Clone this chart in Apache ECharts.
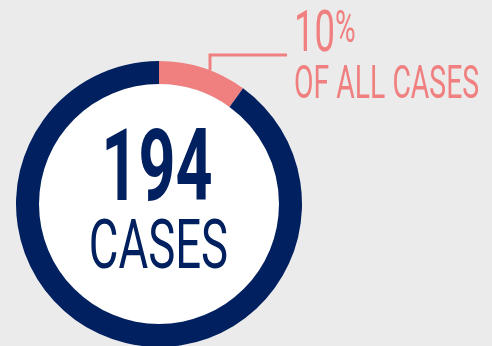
<!DOCTYPE html>
<html>
<head>
<meta charset="utf-8">
<style>
  html, body { margin: 0; padding: 0; background: #ebebeb; }
  #chart { width: 492px; height: 346px; }
</style>
<script src="https://cdn.jsdelivr.net/npm/echarts@6/dist/echarts.min.js"></script>
</head>
<body>
<div id="chart"></div>
<script>
// Share of all cases: highlighted group vs. the rest
const segments = ['This group', 'Other cases'];
const shares = [10, 90];
const segmentColors = ['#f08080', '#002060'];
const caseCount = 194;
const caseLabel = 'CASES';
const shareCaption = 'OF ALL CASES';

const chart = echarts.init(document.getElementById('chart'), null, { renderer: 'canvas' });

const cx = 159, cy = 204, rOuter = 143, rInner = 120;
const total = shares.reduce((a, b) => a + b, 0);
const pct = Math.round(shares[0] / total * 100);

// leader line: rises vertically from the highlighted arc, then runs right to the caption
const anchorX = cx + 51;
const anchorY = cy - Math.sqrt(rOuter * rOuter - 51 * 51);
const elbowY = 55;
const lineEndX = 287;

const condensed = 0.64;

chart.setOption({
  backgroundColor: '#ebebeb',
  animation: false,
  series: [{
    type: 'pie',
    center: [cx, cy],
    radius: [rInner, rOuter],
    startAngle: 90,
    clockwise: true,
    silent: true,
    label: { show: false },
    labelLine: { show: false },
    emphasis: { disabled: true },
    itemStyle: { borderWidth: 0 },
    data: segments.map((name, i) => ({
      name, value: shares[i], itemStyle: { color: segmentColors[i] }
    }))
  }],
  graphic: [
    {
      type: 'circle', silent: true, z: -1,
      shape: { cx, cy, r: rInner },
      style: { fill: '#ffffff' }
    },
    {
      type: 'text', x: 157, y: 175, scaleX: condensed, silent: true,
      style: {
        text: String(caseCount), x: 0, y: 0, align: 'center', verticalAlign: 'middle',
        font: 'bold 101px Roboto', fill: '#002060'
      }
    },
    {
      type: 'text', x: 158.5, y: 251, scaleX: 0.66, silent: true,
      style: {
        text: caseLabel, x: 0, y: 0, align: 'center', verticalAlign: 'middle',
        font: '69px Roboto', fill: '#002060'
      }
    },
    {
      type: 'polyline', silent: true,
      shape: { points: [[anchorX, anchorY], [anchorX, elbowY], [lineEndX, elbowY]] },
      style: { stroke: '#f08080', lineWidth: 3, fill: null }
    },
    {
      type: 'text', x: 294, y: 37, scaleX: condensed, silent: true,
      style: {
        text: '{n|' + pct + '}{p|%}', x: 0, y: 0, align: 'left', verticalAlign: 'middle',
        rich: {
          n: { font: '57px Roboto', fill: '#f08080' },
          p: { font: '44px Roboto', fill: '#f08080', verticalAlign: 'top' }
        }
      }
    },
    {
      type: 'text', x: 294, y: 86, scaleX: 0.617, silent: true,
      style: {
        text: shareCaption, x: 0, y: 0, align: 'left', verticalAlign: 'middle',
        font: '46px Roboto', fill: '#f08080'
      }
    }
  ]
});
</script>
</body>
</html>
